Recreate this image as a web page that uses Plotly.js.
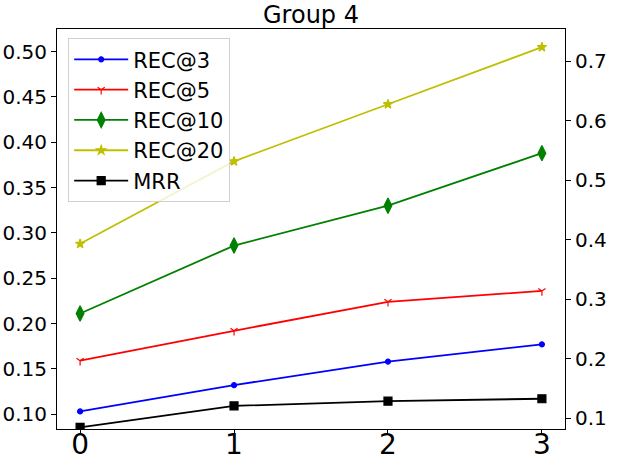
<!DOCTYPE html>
<html>
<head>
<meta charset="utf-8">
<script src="https://cdn.plot.ly/plotly-3.0.1.min.js"></script>
<style>
  html, body { margin: 0; padding: 0; background: #fff; }
  #plot { width: 619px; height: 464px; }
</style>
</head>
<body>
<div id="plot"></div>
<script>
// values
let steps = [0, 1, 2, 3];
let rec3 = [0.103, 0.132, 0.158, 0.177];
let rec5 = [0.159, 0.192, 0.224, 0.236];
let rec10 = [0.211, 0.286, 0.330, 0.388];
let rec20 = [0.288, 0.379, 0.442, 0.505];
let mrr = [0.085, 0.121, 0.129, 0.133]; // right axis

let leftTicks = [0.10, 0.15, 0.20, 0.25, 0.30, 0.35, 0.40, 0.45, 0.50];
let rightTicks = [0.1, 0.2, 0.3, 0.4, 0.5, 0.6, 0.7];

function line(name, y, color, symbol, size, axis) {
  return {
    x: steps,
    y: y,
    name: name,
    type: 'scatter',
    mode: 'lines+markers',
    yaxis: axis || 'y',
    line: { color: color, width: 1.8 },
    marker: { color: color, symbol: symbol, size: size, line: { color: color, width: 1.2 } }
  };
}

let traces = [
  line('REC@3', rec3, '#0000ff', 'circle', 5),
  line('REC@5', rec5, '#ff0000', 'y-down-open', 6),
  line('REC@10', rec10, '#008000', 'diamond-tall', 11),
  line('REC@20', rec20, '#bfbf00', 'star', 7),
  line('MRR', mrr, '#000000', 'square', 8, 'y2')
];

let font = 'DejaVu Sans, sans-serif';

let layout = {
  width: 619,
  height: 464,
  margin: { l: 57, r: 54, t: 29, b: 35 },
  paper_bgcolor: '#fff',
  plot_bgcolor: '#fff',
  font: { family: font, color: '#000', size: 18 },
  title: { text: 'Group 4', font: { family: font, size: 24, color: '#000' }, x: 0.5, xanchor: 'center', y: 0.95, yanchor: 'bottom', xref: 'paper' },
  showlegend: true,
  legend: {
    x: 0.022, y: 0.977, xanchor: 'left', yanchor: 'top',
    bgcolor: 'rgba(255,255,255,0.8)',
    bordercolor: '#d0d0d0', borderwidth: 1,
    font: { family: font, size: 21, color: '#000' },
    itemwidth: 54,
    tracegroupgap: 0
  },
  xaxis: {
    range: [-0.15, 3.15],
    tickvals: steps,
    ticktext: steps.map(String),
    showgrid: false, zeroline: false,
    showline: true, linecolor: '#000', linewidth: 1, mirror: true,
    ticks: 'outside', ticklen: 5, tickcolor: '#000',
    ticklabelstandoff: -15,
    tickfont: { family: font, size: 28, color: '#000' }
  },
  yaxis: {
    range: [0.0836, 0.525],
    tickvals: leftTicks,
    ticktext: leftTicks.map(v => v.toFixed(2)),
    showgrid: false, zeroline: false,
    showline: true, linecolor: '#000', linewidth: 1,
    ticks: 'outside', ticklen: 5, tickcolor: '#000',
    tickfont: { family: font, size: 20, color: '#000' }
  },
  yaxis2: {
    overlaying: 'y',
    side: 'right',
    range: [0.0822, 0.754],
    tickvals: rightTicks,
    ticktext: rightTicks.map(v => v.toFixed(1)),
    showgrid: false, zeroline: false,
    showline: true, linecolor: '#000', linewidth: 1,
    ticks: 'outside', ticklen: 5, tickcolor: '#000',
    tickfont: { family: font, size: 20, color: '#000' }
  }
};

Plotly.newPlot('plot', traces, layout, { displayModeBar: false, staticPlot: true });
</script>
</body>
</html>
